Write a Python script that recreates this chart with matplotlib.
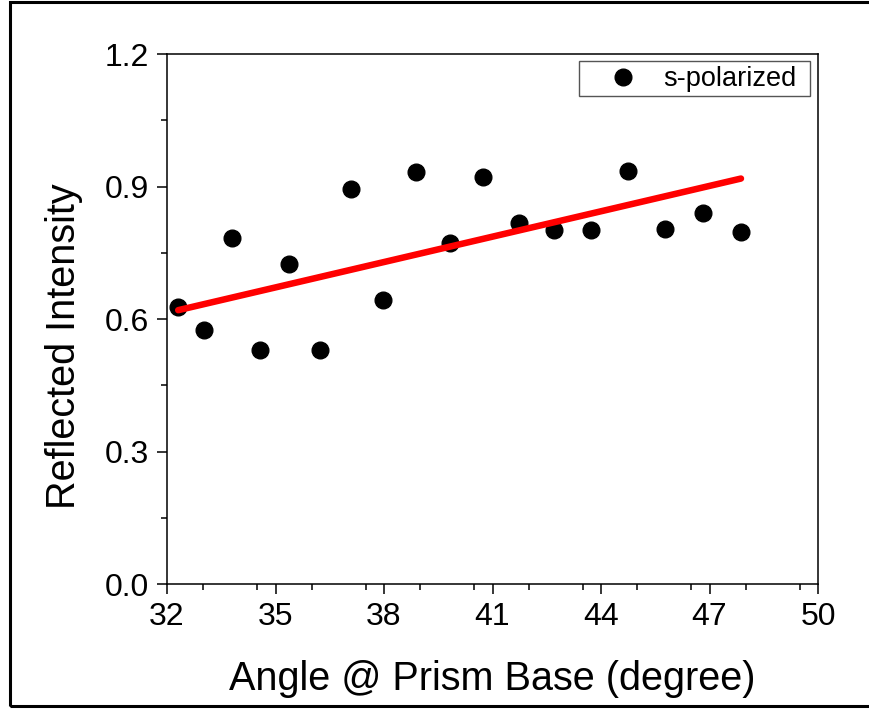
import matplotlib
matplotlib.use("Agg")
import matplotlib.pyplot as plt
from matplotlib.patches import Rectangle
from matplotlib.ticker import MultipleLocator

plt.rcParams['font.family'] = ['Liberation Sans', 'DejaVu Sans']

# Data
angle = [32.31, 33.03, 33.79, 34.57, 35.38, 36.23, 37.09, 37.97, 38.88,
         39.82, 40.75, 41.74, 42.71, 43.72, 44.74, 45.77, 46.81, 47.87]
intensity = [0.627, 0.574, 0.783, 0.530, 0.724, 0.530, 0.895, 0.643, 0.932,
             0.772, 0.922, 0.818, 0.801, 0.801, 0.936, 0.803, 0.839, 0.797]
fit_x = [32.31, 47.87]
fit_y = [0.620, 0.918]

x_ticks = [32, 35, 38, 41, 44, 47, 50]
y_ticks = [0.0, 0.3, 0.6, 0.9, 1.2]
y_ticklabels = ['0.0', '0.3', '0.6', '0.9', '1.2']

W, H = 869, 709
fig = plt.figure(figsize=(W / 100, H / 100), dpi=100)
L, R, T, B = 167, 818, 54, 584
ax = fig.add_axes([L / W, 1 - B / H, (R - L) / W, (B - T) / H])

ax.plot(angle, intensity, 'o', color='black', markersize=12, linestyle='none',
        label='s-polarized', zorder=3)
ax.plot(fit_x, fit_y, '-', color='#ff0000', linewidth=4.7,
        solid_capstyle='round', zorder=4)

ax.set_xlim(32, 50)
ax.set_ylim(0, 1.2)
ax.set_xticks(x_ticks)
ax.set_xticklabels([str(t) for t in x_ticks])
ax.set_yticks(y_ticks)
ax.set_yticklabels(y_ticklabels)
ax.xaxis.set_minor_locator(MultipleLocator(1.5))
ax.yaxis.set_minor_locator(MultipleLocator(0.15))

ax.tick_params(axis='both', which='major', direction='out', length=7,
               width=1.1, labelsize=23, top=False, right=False)
ax.tick_params(axis='x', which='major', pad=6)
ax.tick_params(axis='y', which='major', pad=6)
ax.tick_params(axis='both', which='minor', direction='out', length=4.3,
               width=1.1, top=False, right=False)
for sp in ax.spines.values():
    sp.set_linewidth(1.1)
    sp.set_color('black')

# legend: frame drawn separately for exact placement
def ax_x(px):
    return (px - L) / (R - L)

def ax_y(py):
    return (B - py) / (B - T)

fs = 19.5
fs_px = fs * 100 / 72
leg_frame = Rectangle((ax_x(578.5), ax_y(96)), ax_x(810) - ax_x(578.5),
                      ax_y(60.5) - ax_y(96), transform=ax.transAxes,
                      fill=True, facecolor='white', edgecolor='#555555',
                      linewidth=1.0, zorder=5, clip_on=False)
ax.add_patch(leg_frame)
handle_len = 1.0
handle_left_px = 623.3 - handle_len * fs_px / 2
text_pad = (662.7 - (handle_left_px + handle_len * fs_px)) / fs_px
leg = ax.legend(loc='center left', bbox_to_anchor=(ax_x(handle_left_px), ax_y(79)),
                borderaxespad=0, borderpad=0, fontsize=fs, frameon=False,
                handlelength=handle_len, handletextpad=text_pad)
leg.set_zorder(6)

fig.text(64 / W, 1 - 346 / H, 'Reflected Intensity', rotation=90,
         ha='center', va='center', fontsize=28.5)
fig.text(492 / W, 1 - 690 / H, 'Angle @ Prism Base (degree)',
         ha='center', va='baseline', fontsize=28.5)

# outer frame (left, top, bottom)
frame = Rectangle((9.5 / W, 1 - 705.5 / H), 1.2, (705.5 - 1.5) / H,
                  transform=fig.transFigure, fill=False, edgecolor='black',
                  linewidth=2.2, clip_on=False)
fig.patches.append(frame)

fig.savefig('out.png', dpi=100)
